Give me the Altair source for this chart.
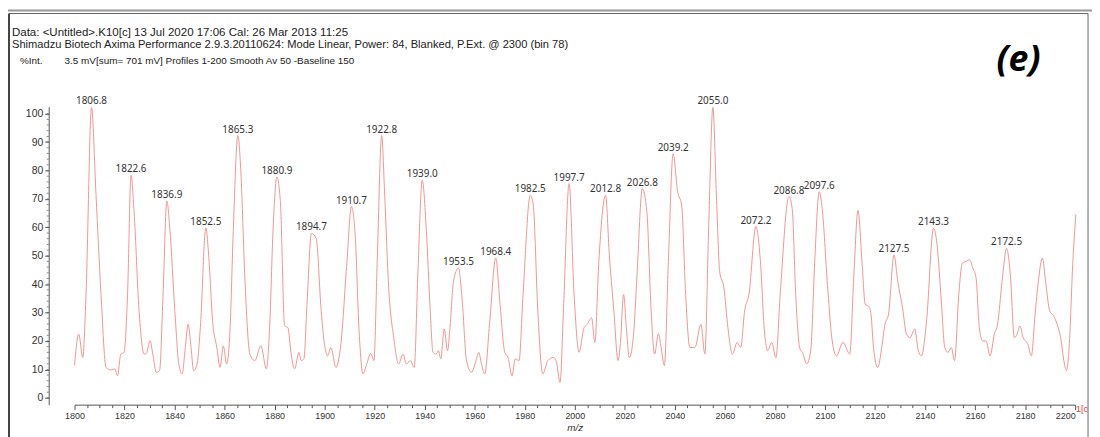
import altair as alt
import pandas as pd

# ---- spectrum trace (m/z, %Int) ----
mz = [1800.0, 1801.7, 1803.3, 1804.6, 1806.8, 1808.6, 1810.6, 1812.6, 1814.5, 1816.1,
      1817.2, 1818.5, 1819.8, 1821.2, 1822.6, 1823.8, 1825.8, 1827.8, 1828.7, 1830.2,
      1831.3, 1832.7, 1834.0, 1835.4, 1836.9, 1838.1, 1840.1, 1841.7, 1843.0, 1844.3,
      1845.4, 1846.6, 1847.6, 1849.0, 1850.3, 1852.5, 1853.8, 1855.2, 1856.9, 1858.2,
      1859.5, 1860.8, 1862.2, 1863.5, 1865.3, 1866.5, 1868.1, 1870.1, 1872.1, 1874.5,
      1876.7, 1878.0, 1879.4, 1880.9, 1882.3, 1884.0, 1885.3, 1886.6, 1888.0, 1889.7,
      1890.6, 1891.7, 1893.0, 1894.7, 1896.6, 1898.6, 1899.9, 1901.2, 1902.5, 1904.5,
      1906.5, 1908.9, 1910.7, 1912.2, 1913.7, 1915.3, 1916.8, 1918.4, 1919.7, 1921.0,
      1922.8, 1924.0, 1925.6, 1927.6, 1929.6, 1931.3, 1932.7, 1934.2, 1935.8, 1937.2,
      1939.0, 1940.6, 1942.2, 1943.3, 1944.6, 1945.5, 1946.4, 1947.8, 1949.1, 1950.1,
      1951.5, 1953.5, 1955.0, 1956.7, 1958.7, 1960.5, 1961.6, 1962.7, 1964.0, 1966.0,
      1968.4, 1970.0, 1972.0, 1973.3, 1974.9, 1976.2, 1977.7, 1979.3, 1982.2, 1983.4,
      1985.2, 1987.2, 1989.2, 1991.4, 1992.5, 1994.1, 1995.5, 1997.7, 1999.7, 2001.7,
      2003.7, 2005.0, 2006.7, 2008.0, 2009.6, 2012.3, 2013.8, 2015.6, 2017.3, 2018.2,
      2019.5, 2020.6, 2021.8, 2023.5, 2024.8, 2027.0, 2028.8, 2030.5, 2031.9, 2033.4,
      2034.5, 2035.8, 2037.4, 2039.3, 2041.1, 2042.7, 2044.3, 2046.0, 2048.0, 2050.4,
      2052.0, 2053.5, 2055.2, 2056.6, 2057.9, 2059.6, 2061.2, 2063.0, 2064.9, 2066.3,
      2067.9, 2069.6, 2072.4, 2074.2, 2075.8, 2077.1, 2078.7, 2080.4, 2082.1, 2085.6,
      2086.9, 2088.3, 2090.0, 2091.0, 2092.7, 2094.3, 2095.9, 2097.7, 2098.9, 2100.9,
      2102.9, 2104.6, 2107.2, 2109.9, 2111.5, 2113.2, 2114.8, 2116.1, 2117.4, 2118.4,
      2119.4, 2121.1, 2122.7, 2124.0, 2125.4, 2127.6, 2129.1, 2131.0, 2132.6, 2134.0,
      2135.9, 2137.3, 2138.6, 2140.6, 2143.4, 2144.8, 2146.5, 2147.9, 2149.2, 2150.5,
      2151.8, 2153.5, 2154.9, 2156.4, 2157.8, 2159.1, 2160.4, 2161.7, 2163.1, 2164.4,
      2166.0, 2167.7, 2169.0, 2170.8, 2172.6, 2174.1, 2175.7, 2176.6, 2177.9, 2179.2,
      2181.0, 2182.5, 2184.0, 2185.3, 2186.9, 2188.2, 2189.8, 2191.5, 2192.8, 2194.2,
      2195.5, 2196.5, 2197.7, 2199.1, 2200.3]
intensity = [11.5, 22.4, 14.2, 36.4, 102.2, 71.3, 36.4, 10.7, 9.8, 10.2,
             7.8, 15.4, 16.0, 36.4, 78.3, 65.6, 30.7, 15.4, 15.6, 20.1,
             15.4, 9.0, 9.6, 36.4, 69.3, 59.7, 30.7, 11.9, 8.4, 17.7,
             25.9, 17.7, 9.6, 11.9, 24.7, 59.7, 48.0, 27.0, 17.7, 10.7,
             18.3, 11.9, 24.7, 59.7, 92.3, 79.5, 42.2, 15.4, 13.1, 18.3,
             10.2, 24.7, 59.7, 77.7, 69.0, 25.3, 24.7, 15.4, 10.2, 16.0,
             13.1, 13.7, 34.1, 57.9, 56.1, 30.7, 19.1, 14.8, 17.7, 10.7,
             19.1, 48.0, 67.3, 57.4, 24.7, 8.4, 11.9, 15.6, 13.1, 48.0,
             92.3, 71.3, 38.7, 21.2, 11.9, 15.4, 11.9, 13.1, 10.7, 42.2,
             76.6, 59.7, 30.7, 16.0, 15.4, 16.6, 13.7, 24.2, 16.6, 24.7,
             41.0, 45.7, 34.1, 13.1, 9.0, 13.1, 16.0, 11.9, 8.4, 27.0,
             49.2, 34.1, 16.0, 14.2, 7.8, 13.7, 13.1, 36.4, 71.3, 67.8,
             30.7, 8.4, 13.1, 14.2, 13.1, 5.4, 31.8, 75.4, 36.4, 16.0,
             24.7, 25.9, 28.2, 19.5, 48.0, 71.3, 50.3, 30.7, 13.1, 19.1,
             36.4, 24.7, 14.2, 22.4, 42.2, 73.6, 65.5, 30.7, 15.4, 22.6,
             17.7, 11.3, 48.0, 85.9, 72.5, 67.8, 36.4, 17.7, 17.7, 25.9,
             15.4, 59.7, 102.2, 71.3, 44.5, 38.7, 24.7, 15.4, 19.5, 17.7,
             30.7, 36.4, 60.3, 48.0, 23.5, 16.6, 19.5, 14.2, 36.4, 70.8,
             66.6, 36.4, 17.2, 16.0, 11.9, 16.6, 48.0, 72.5, 66.6, 41.0,
             20.0, 14.8, 19.5, 15.4, 42.2, 66.0, 48.0, 32.9, 32.3, 29.4,
             17.7, 10.7, 17.7, 25.9, 29.4, 50.3, 41.0, 31.7, 22.4, 21.2,
             24.2, 16.6, 14.8, 27.0, 59.7, 54.0, 34.1, 17.7, 16.0, 17.7,
             13.1, 36.4, 47.4, 48.0, 48.6, 45.7, 42.2, 24.7, 20.0, 20.0,
             14.8, 22.4, 25.9, 41.0, 52.6, 43.3, 21.2, 22.0, 25.3, 21.2,
             19.1, 14.8, 29.4, 41.0, 49.2, 41.0, 30.7, 28.7, 25.9, 21.2,
             13.1, 9.6, 19.1, 48.0, 64.5]

# ---- labelled peaks ----
peak_labels = ["1806.8", "1822.6", "1836.9", "1852.5", "1865.3", "1880.9", "1894.7",
               "1910.7", "1922.8", "1939.0", "1953.5", "1968.4", "1982.5", "1997.7",
               "2012.8", "2026.8", "2039.2", "2055.0", "2072.2", "2086.8", "2097.6",
               "2127.5", "2143.3", "2172.5"]
peak_mz = [1806.8, 1822.6, 1836.9, 1852.5, 1865.3, 1880.9, 1894.7,
           1910.7, 1922.8, 1939.0, 1953.5, 1968.4, 1982.2, 1997.7,
           2012.3, 2027.0, 2039.3, 2055.2, 2072.4, 2085.6, 2097.7,
           2127.6, 2143.4, 2172.6]
peak_int = [102.2, 78.3, 69.3, 59.7, 92.3, 77.7, 57.9,
            67.3, 92.3, 76.6, 45.7, 49.2, 71.3, 75.4,
            71.3, 73.6, 85.9, 102.2, 60.3, 70.8, 72.5,
            50.3, 59.7, 52.6]

# ---- axis ticks ----
x_ticks = list(range(1800, 2201, 5))
y_major = list(range(0, 101, 10))
y_minor = list(range(0, 101, 2))

# ---- header text ----
header_1 = "Data: <Untitled>.K10[c] 13 Jul 2020 17:06 Cal: 26 Mar 2013 11:25"
header_2 = ("Shimadzu Biotech Axima Performance 2.9.3.20110624: Mode Linear, Power: 84, "
            "Blanked, P.Ext. @ 2300 (bin 78)")
header_3a = "%Int."
header_3b = "3.5 mV[sum= 701 mV]  Profiles 1-200 Smooth Av 50 -Baseline 150"
panel_tag = "(e)"
x_title = "m/z"

spec_df = pd.DataFrame({"mz": mz, "intensity": intensity})
peaks_df = pd.DataFrame({"mz": peak_mz, "intensity": peak_int, "label": peak_labels})
yminor_df = pd.DataFrame({"intensity": y_minor})
one = pd.DataFrame({"k": [0]})

FONT = "Liberation Sans"
AXIS_C = "#555"
Y_OFFSET = 26

x_scale = alt.Scale(domain=[1800, 2200], nice=False, zero=False)
y_scale = alt.Scale(domain=[-2.4, 102.4], nice=False, zero=False)

x_axis = alt.Axis(
    values=x_ticks, format="d", title=x_title,
    labelExpr="datum.value % 20 === 0 ? datum.label : ''",
    tickSize={"condition": {"test": "datum.value % 20 === 0", "value": 5}, "value": 3},
    labelAlign={"condition": {"test": "datum.value === 2200", "value": "right"}, "value": "center"},
    labelOverlap=False, labelFlush=False, labelPadding=2,
    labelFont=FONT, labelFontSize=9, labelColor="#333",
    titleFont=FONT, titleFontSize=10, titleFontStyle="italic", titleFontWeight="normal",
    titleColor="#333", titlePadding=2,
    domainColor=AXIS_C, tickColor=AXIS_C, grid=False,
)
y_axis = alt.Axis(
    values=y_major, format="d", title=None, offset=Y_OFFSET,
    tickSize=4, labelOverlap=False, labelFlush=False, labelPadding=2,
    labelFont=FONT, labelFontSize=10.5, labelColor="#333",
    domainColor=AXIS_C, tickColor=AXIS_C, grid=False,
)

line = alt.Chart(spec_df).mark_line(
    color="#f29494", strokeWidth=1, interpolate="monotone"
).encode(
    x=alt.X("mz:Q", scale=x_scale, axis=x_axis),
    y=alt.Y("intensity:Q", scale=y_scale, axis=y_axis),
)

labels = alt.Chart(peaks_df).mark_text(
    font="Noto Sans", fontSize=10, color="#333", baseline="bottom", dy=-1
).encode(
    x=alt.X("mz:Q", scale=x_scale, axis=x_axis),
    y=alt.Y("intensity:Q", scale=y_scale, axis=y_axis),
    text="label:N",
)

minor_y = alt.Chart(yminor_df).mark_tick(
    orient="horizontal", size=2, thickness=1, color=AXIS_C
).encode(
    y=alt.Y("intensity:Q", scale=y_scale, axis=y_axis),
    x=alt.value(-Y_OFFSET - 1),
)


def txt(s, x, y, **kw):
    base = dict(font=FONT, fontSize=10, color="#222", align="left", baseline="middle")
    base.update(kw)
    return alt.Chart(one).mark_text(text=s, **base).encode(x=alt.value(x), y=alt.value(y))


def rule(x, x2, y, y2, color, w):
    return alt.Chart(one).mark_rule(color=color, strokeWidth=w).encode(
        x=alt.value(x), x2=alt.value(x2), y=alt.value(y), y2=alt.value(y2))


frame = [
    rule(-75, 1025, -97, -97, "#9a9a9a", 2),
    rule(-66, 1021, -94, -94, "#666", 1),
    rule(-66, -66, -94, 340, "#444", 2),
    rule(1021, 1021, -94, 340, "#666", 1),
]

texts = [
    txt(header_1, -63, -74, fontSize=11.6),
    txt(header_2, -63, -62.5, fontSize=11.2),
    txt(header_3a, -55, -46.5),
    txt(header_3b, -10, -46.5),
    txt(panel_tag, 951, -47, align="center", font="Open Sans", fontSize=36,
        fontWeight="bold", fontStyle="italic", color="#000"),
    txt("1[c", 1009, 304, fontSize=9, color="#e04040"),
]

chart = alt.layer(line, labels, minor_y, *frame, *texts).properties(
    width=1008, height=300,
    autosize=alt.AutoSizeParams(type="none"),
    padding={"left": 67, "top": 98, "right": 17, "bottom": 31},
    background="white",
).configure_view(stroke=None)

chart.save("out.html", embed_options={"renderer": "svg", "actions": False})
